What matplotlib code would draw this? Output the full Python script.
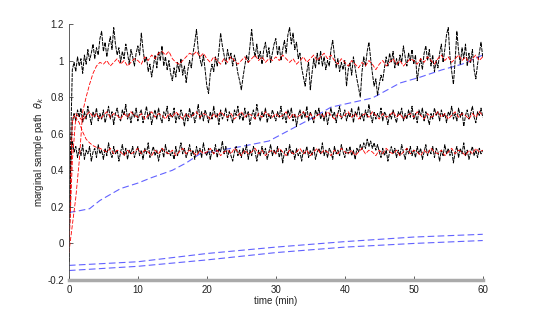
import numpy as np
import matplotlib
matplotlib.use("Agg")
from matplotlib import pyplot as plt

plt.rcParams["font.family"] = ["Liberation Sans", "DejaVu Sans"]

# sampling grids (min)
t_fine = np.linspace(0, 60, 241)   # black paths, every 0.25 min
t_coarse = np.linspace(0, 60, 121)  # red paths, every 0.5 min

black_top = [
    -0.10, 0.55, 0.95, 0.99, 0.94, 1.02, 0.97, 1.01, 0.93, 1.03, 0.98, 1.06, 1.00, 1.04, 1.09, 1.01, 1.07, 1.03, 1.12, 1.16,
    1.05, 1.10, 1.02, 1.08, 1.13, 1.06, 1.18, 1.09, 1.03, 1.07, 0.99, 1.05, 1.01, 1.09, 1.04, 0.98, 1.06, 1.02, 0.97, 1.04,
    1.08, 1.03, 1.15, 1.06, 0.99, 1.02, 0.94, 0.98, 0.91, 0.97, 1.03, 0.96, 1.05, 1.00, 1.08, 0.97, 1.02, 0.95, 1.00, 0.93,
    0.89, 0.96, 0.91, 0.99, 0.94, 1.01, 0.92, 0.97, 0.88, 0.95, 1.00, 0.96, 1.04, 1.10, 1.17, 1.06, 1.01, 0.97, 1.03, 0.95,
    0.86, 0.82, 0.93, 0.98, 0.94, 1.02, 0.97, 1.05, 1.15, 1.08, 1.03, 0.98, 1.06, 1.01, 1.04, 0.97, 1.03, 0.99, 0.93, 0.89,
    0.84, 0.91, 0.97, 1.03, 0.99, 1.08, 1.17, 1.07, 1.02, 1.09, 1.01, 1.05, 0.98, 1.06, 1.10, 1.02, 1.07, 0.99, 1.04, 1.09,
    1.12, 1.03, 1.08, 1.00, 1.06, 1.11, 1.04, 1.14, 1.18, 1.09, 1.15, 1.06, 1.10, 1.01, 1.04, 0.96, 0.91, 0.86, 0.94, 0.99,
    0.84, 0.93, 1.01, 0.96, 1.04, 0.98, 1.05, 0.97, 1.02, 0.95, 1.00, 0.97, 1.06, 1.11, 1.03, 0.96, 1.01, 0.94, 0.99, 0.95,
    1.00, 0.86, 0.95, 0.99, 0.92, 1.02, 0.96, 0.90, 0.85, 0.80, 0.94, 1.02, 0.97, 1.05, 1.10, 1.01, 0.93, 0.86, 0.90, 0.81,
    0.87, 0.92, 0.89, 0.96, 1.02, 0.97, 1.04, 0.99, 1.05, 0.96, 1.01, 0.97, 1.03, 0.99, 1.08, 1.02, 0.97, 1.04, 1.00, 1.06,
    0.98, 1.03, 0.89, 0.96, 1.01, 0.95, 1.04, 1.08, 1.00, 1.06, 0.97, 1.03, 0.94, 1.00, 0.96, 1.04, 1.09, 0.99, 1.06, 1.14,
    1.18, 1.02, 0.94, 0.87, 1.00, 1.16, 1.05, 0.98, 1.07, 1.01, 1.09, 0.97, 1.04, 0.99, 1.06, 0.95, 0.90, 0.98, 1.04, 1.10,
    1.02,
]

black_mid = [
    -0.10, 0.45, 0.66, 0.71, 0.67, 0.73, 0.69, 0.74, 0.66, 0.72, 0.68, 0.75, 0.70, 0.65, 0.72, 0.69, 0.74, 0.67, 0.71, 0.68,
    0.73, 0.66, 0.70, 0.75, 0.68, 0.72, 0.65, 0.71, 0.74, 0.69, 0.67, 0.73, 0.70, 0.76, 0.68, 0.71, 0.66, 0.72, 0.69, 0.74,
    0.67, 0.71, 0.73, 0.66, 0.70, 0.75, 0.68, 0.72, 0.65, 0.70, 0.73, 0.68, 0.74, 0.69, 0.66, 0.72, 0.70, 0.75, 0.67, 0.71,
    0.69, 0.74, 0.66, 0.71, 0.68, 0.73, 0.70, 0.64, 0.71, 0.67, 0.74, 0.69, 0.72, 0.66, 0.70, 0.76, 0.68, 0.72, 0.67, 0.73,
    0.70, 0.66, 0.72, 0.68, 0.75, 0.69, 0.71, 0.65, 0.73, 0.68, 0.70, 0.74, 0.67, 0.72, 0.69, 0.66, 0.73, 0.70, 0.75, 0.68,
    0.71, 0.67, 0.74, 0.69, 0.72, 0.65, 0.70, 0.73, 0.68, 0.76, 0.70, 0.67, 0.72, 0.69, 0.74, 0.66, 0.71, 0.68, 0.73, 0.70,
    0.67, 0.72, 0.69, 0.75, 0.68, 0.71, 0.66, 0.73, 0.70, 0.74, 0.67, 0.71, 0.64, 0.70, 0.73, 0.68, 0.72, 0.69, 0.75, 0.67,
    0.72, 0.69, 0.66, 0.73, 0.70, 0.74, 0.68, 0.71, 0.67, 0.72, 0.65, 0.70, 0.74, 0.69, 0.72, 0.66, 0.71, 0.75, 0.68, 0.70,
    0.73, 0.67, 0.71, 0.69, 0.74, 0.66, 0.72, 0.70, 0.75, 0.68, 0.71, 0.67, 0.73, 0.69, 0.76, 0.70, 0.66, 0.72, 0.68, 0.71,
    0.69, 0.74, 0.67, 0.72, 0.70, 0.65, 0.71, 0.68, 0.73, 0.69, 0.66, 0.72, 0.70, 0.74, 0.67, 0.71, 0.68, 0.73, 0.69, 0.75,
    0.68, 0.71, 0.66, 0.73, 0.70, 0.74, 0.67, 0.72, 0.69, 0.65, 0.71, 0.68, 0.74, 0.70, 0.72, 0.67, 0.73, 0.69, 0.71, 0.66,
    0.72, 0.70, 0.75, 0.68, 0.71, 0.67, 0.74, 0.69, 0.72, 0.64, 0.70, 0.73, 0.68, 0.71, 0.75, 0.69, 0.66, 0.72, 0.70, 0.74,
    0.69,
]

black_low = [
    -0.10, 0.40, 0.56, 0.50, 0.53, 0.47, 0.52, 0.48, 0.54, 0.46, 0.51, 0.49, 0.53, 0.45, 0.50, 0.52, 0.47, 0.54, 0.49, 0.51,
    0.46, 0.52, 0.48, 0.55, 0.50, 0.47, 0.53, 0.49, 0.51, 0.45, 0.50, 0.54, 0.48, 0.52, 0.46, 0.51, 0.49, 0.53, 0.47, 0.50,
    0.53, 0.48, 0.51, 0.46, 0.52, 0.49, 0.55, 0.47, 0.50, 0.53, 0.48, 0.51, 0.45, 0.50, 0.52, 0.47, 0.54, 0.49, 0.51, 0.48,
    0.50, 0.46, 0.53, 0.48, 0.51, 0.55, 0.49, 0.52, 0.47, 0.50, 0.54, 0.48, 0.51, 0.46, 0.53, 0.49, 0.52, 0.47, 0.55, 0.50,
    0.48, 0.52, 0.46, 0.51, 0.49, 0.54, 0.47, 0.52, 0.50, 0.56, 0.49, 0.53, 0.47, 0.51, 0.48, 0.45, 0.50, 0.53, 0.48, 0.51,
    0.47, 0.52, 0.49, 0.54, 0.46, 0.51, 0.48, 0.53, 0.50, 0.45, 0.51, 0.48, 0.53, 0.49, 0.52, 0.46, 0.50, 0.54, 0.48, 0.51,
    0.49, 0.53, 0.47, 0.51, 0.44, 0.50, 0.52, 0.48, 0.54, 0.49, 0.51, 0.46, 0.52, 0.48, 0.50, 0.45, 0.51, 0.49, 0.53, 0.47,
    0.51, 0.48, 0.53, 0.46, 0.50, 0.52, 0.49, 0.55, 0.48, 0.51, 0.47, 0.52, 0.50, 0.46, 0.53, 0.49, 0.51, 0.48, 0.54, 0.50,
    0.47, 0.52, 0.49, 0.53, 0.48, 0.51, 0.46, 0.52, 0.50, 0.54, 0.51, 0.55, 0.52, 0.57, 0.53, 0.56, 0.52, 0.55, 0.51, 0.54,
    0.50, 0.47, 0.52, 0.48, 0.51, 0.45, 0.50, 0.53, 0.49, 0.52, 0.47, 0.51, 0.48, 0.54, 0.50, 0.46, 0.52, 0.49, 0.53, 0.48,
    0.51, 0.47, 0.53, 0.49, 0.52, 0.46, 0.50, 0.54, 0.48, 0.51, 0.49, 0.53, 0.47, 0.52, 0.50, 0.45, 0.51, 0.48, 0.54, 0.49,
    0.52, 0.48, 0.51, 0.44, 0.50, 0.53, 0.47, 0.52, 0.49, 0.55, 0.48, 0.51, 0.46, 0.50, 0.53, 0.48, 0.51, 0.47, 0.52, 0.49,
    0.51,
]

red_top = [
    -0.05, 0.10, 0.25, 0.45, 0.72, 0.80, 0.87, 0.93, 0.97, 0.99, 0.98, 1.00, 0.97, 0.99, 1.01, 0.98, 1.00, 0.97, 0.99, 1.01,
    1.00, 0.98, 1.02, 1.00, 1.03, 1.01, 1.04, 1.05, 1.03, 1.05, 1.01, 0.99, 0.98, 1.00, 1.02, 1.04, 1.03, 1.05, 1.02, 1.04,
    1.01, 0.99, 1.02, 1.00, 0.98, 1.01, 0.99, 1.02, 1.00, 0.98, 1.00, 1.02, 0.99, 1.01, 1.03, 1.00, 1.02, 0.99, 1.01, 1.00,
    1.02, 1.00, 1.03, 1.01, 0.99, 1.01, 0.98, 1.00, 1.02, 0.99, 1.01, 1.03, 1.00, 1.02, 1.04, 1.01, 1.03, 1.00, 0.98, 1.01,
    0.99, 0.97, 1.00, 0.98, 0.96, 0.99, 0.97, 1.00, 0.98, 0.95, 0.98, 1.00, 0.97, 0.99, 1.01, 0.98, 1.00, 0.97, 0.99, 1.01,
    1.00, 0.98, 1.01, 0.99, 1.02, 1.00, 0.98, 1.01, 1.03, 1.00, 1.02, 0.99, 1.01, 1.03, 1.00, 1.02, 0.99, 1.01, 1.03, 1.00,
    1.02,
]

red_mid = [
    -0.05, 0.68, 0.71, 0.69, 0.67, 0.70, 0.72, 0.69, 0.71, 0.68, 0.70, 0.72, 0.69, 0.71, 0.70, 0.68, 0.71, 0.69, 0.72, 0.70,
    0.69, 0.71, 0.68, 0.70, 0.72, 0.69, 0.71, 0.70, 0.68, 0.71, 0.69, 0.72, 0.70, 0.68, 0.71, 0.69, 0.70, 0.72, 0.69, 0.71,
    0.70, 0.68, 0.71, 0.69, 0.72, 0.70, 0.69, 0.71, 0.68, 0.70, 0.72, 0.69, 0.71, 0.70, 0.68, 0.71, 0.69, 0.72, 0.70, 0.69,
    0.71, 0.69, 0.70, 0.72, 0.68, 0.71, 0.69, 0.70, 0.72, 0.69, 0.71, 0.68, 0.70, 0.71, 0.69, 0.72, 0.70, 0.68, 0.71, 0.69,
    0.70, 0.72, 0.69, 0.71, 0.68, 0.70, 0.71, 0.69, 0.72, 0.70, 0.68, 0.71, 0.69, 0.70, 0.72, 0.69, 0.71, 0.68, 0.70, 0.71,
    0.69, 0.72, 0.70, 0.68, 0.71, 0.69, 0.70, 0.72, 0.69, 0.71, 0.68, 0.70, 0.72, 0.69, 0.71, 0.70, 0.68, 0.71, 0.69, 0.72,
    0.70,
]

red_low = [
    -0.05, 0.45, 0.69, 0.66, 0.61, 0.57, 0.55, 0.535, 0.525, 0.52, 0.51, 0.50, 0.52, 0.49, 0.51, 0.50, 0.48, 0.51, 0.49, 0.50,
    0.52, 0.49, 0.51, 0.50, 0.48, 0.51, 0.49, 0.52, 0.50, 0.49, 0.51, 0.48, 0.50, 0.52, 0.49, 0.51, 0.50, 0.48, 0.51, 0.49,
    0.50, 0.52, 0.49, 0.51, 0.48, 0.50, 0.51, 0.49, 0.52, 0.50, 0.48, 0.51, 0.49, 0.50, 0.52, 0.49, 0.51, 0.48, 0.50, 0.51,
    0.49, 0.52, 0.50, 0.48, 0.51, 0.49, 0.50, 0.52, 0.49, 0.51, 0.48, 0.50, 0.52, 0.49, 0.51, 0.50, 0.48, 0.51, 0.49, 0.52,
    0.50, 0.49, 0.51, 0.48, 0.50, 0.52, 0.49, 0.51, 0.50, 0.48, 0.51, 0.49, 0.52, 0.50, 0.49, 0.51, 0.48, 0.50, 0.52, 0.49,
    0.51, 0.50, 0.48, 0.51, 0.49, 0.52, 0.50, 0.49, 0.51, 0.48, 0.50, 0.52, 0.49, 0.51, 0.50, 0.48, 0.51, 0.49, 0.52, 0.50,
    0.51,
]

# blue dashed paths
blue_t = [0, 1, 3, 4.5, 7.5, 10, 12, 15, 17, 19, 22, 25, 29, 32, 35, 38, 41, 44, 48, 51, 54, 57, 60]
blue_up = [0.17, 0.175, 0.19, 0.235, 0.30, 0.33, 0.36, 0.40, 0.44, 0.49, 0.51, 0.53, 0.56, 0.62, 0.68,
           0.745, 0.77, 0.795, 0.877, 0.91, 0.948, 0.98, 1.03]
low_t = [0, 10, 20, 30, 40, 50, 60]
blue_a = [-0.12, -0.10, -0.055, -0.02, 0.01, 0.035, 0.05]
blue_b = [-0.148, -0.125, -0.09, -0.05, -0.02, 0.0, 0.016]

fig = plt.figure(figsize=(5.34, 3.15), dpi=100)
ax = fig.add_axes([0.129, 0.111, 0.775, 0.813])

blue = "#6262ff"
for x, y in [(blue_t, blue_up), (low_t, blue_a), (low_t, blue_b)]:
    ax.plot(x, y, color=blue, lw=0.8, dashes=(6, 3))

for y in [black_top, black_mid, black_low]:
    ax.plot(t_fine, y, color="black", lw=0.7, dashes=(4, 1))

for y in [red_top, red_mid, red_low]:
    ax.plot(t_coarse, y, color="red", lw=0.6, dashes=(5, 2))

ax.set_xlim(0, 60)
ax.set_ylim(-0.2, 1.2)
ax.set_xticks([0, 10, 20, 30, 40, 50, 60])
ax.set_yticks([-0.2, 0, 0.2, 0.4, 0.6, 0.8, 1, 1.2])
ax.set_yticklabels(["-0.2", "0", "0.2", "0.4", "0.6", "0.8", "1", "1.2"])

ax.spines["top"].set_visible(False)
ax.spines["right"].set_visible(False)
ax.spines["left"].set_color("#444444")
ax.spines["left"].set_linewidth(0.6)
ax.spines["bottom"].set_color("#aaaaaa")
ax.spines["bottom"].set_linewidth(2.5)
ax.tick_params(direction="in", length=3, width=0.6, color="#444444",
               labelsize=7, labelcolor="#222222")

ax.set_xlabel("time (min)", fontsize=7, color="#222222", labelpad=0.5)
ax.set_ylabel(r"marginal sample path  $\theta_k$", fontsize=7, color="#222222", labelpad=1)

fig.savefig("out.png", dpi=100)
